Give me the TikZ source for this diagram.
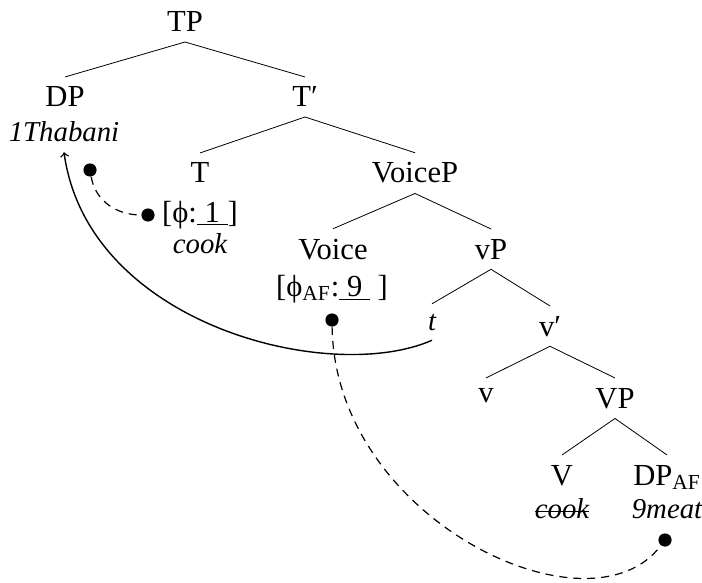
\documentclass[tikz,border=0pt]{standalone}
\usepackage{fontspec}
\setmainfont{Liberation Serif}
\begin{document}
\begin{tikzpicture}[x=0.5pt,y=-0.5pt,font=\fontsize{15.3pt}{18pt}\selectfont,
  cat/.style={anchor=base,inner sep=0pt,outer sep=5pt},
  word/.style={anchor=base,inner sep=0pt,outer sep=5pt,font=\fontsize{14.4pt}{17pt}\selectfont\itshape},
  feat/.style={anchor=base,inner sep=0pt,outer sep=0pt},
  dot/.style={circle,fill=black,inner sep=0pt,minimum size=6.6pt},
  link/.style={dash pattern=on 4pt off 3pt,line width=0.6pt}]
\useasboundingbox (0,0) rectangle (702,583);

\node[cat] (TP) at (185,32){TP};
\node[cat] (DP) at (65,107){DP};
\node[word] (Thabani) at (64,142){1Thabani};
\node[cat] (Tbar) at (305,107){T′};
\node[cat] (T) at (200,183){T};
\node[feat] (Tfeat) at (200,222){[ϕ:\underline{\ 1\ }]};
\node[word] (Tcook) at (200,253){cook};
\node[cat] (VoiceP) at (415,183){VoiceP};
\node[cat] (Voice) at (333,259){Voice};
\node[feat] (Vfeat) at (332,296){[ϕ\textsubscript{AF}:\underline{\ 9\ }\ ]};
\node[cat] (vP) at (491,259){vP};
\node[word] (t) at (432,330){t};
\node[cat] (vbar) at (550,336){v′};
\node[cat] (v) at (486,402){v};
\node[cat] (VP) at (615,408){VP};
\node[cat] (V) at (562,485){V};
\node[word,outer sep=0pt] (Vcook) at (562,518){cook};
\node[cat] (DPaf) at (667,485){DP\textsubscript{AF}};
\node[word] (meat) at (667,518){9meat};

\node[dot] (d1) at (90,170){};
\node[dot] (d2) at (148,215){};
\node[dot] (d3) at (332,320){};
\node[dot] (d4) at (665,540){};

%%%%%%%%
\path [-,thin] (TP.south) edge (DP.north);
\path [-,thin] (TP.south) edge (Tbar.north);
\path [-,thin] (Tbar.south) edge (T.north);
\path [-,thin] (Tbar.south) edge (VoiceP.north);
\path [-,thin] (VoiceP.south) edge (Voice.north);
\path [-,thin] (VoiceP.south) edge (vP.north);
\path [-,thin] (vP.south) edge (t.north);
\path [-,thin] (vP.south) edge (vbar.north);
\path [-,thin] (vbar.south) edge (v.north);
\path [-,thin] (vbar.south) edge (VP.north);
\path [-,thin] (VP.south) edge (V.north);
\path [-,thin] (VP.south) edge (DPaf.north);
%%%%%%%%%%%%
\draw[line width=0.6pt] ([yshift=3.2pt]Vcook.base west) -- ([yshift=3.2pt]Vcook.base east);
\draw[link] (d1) to[out=-80,in=180] (d2);
\draw[link] (d3) .. controls (335,520) and (590,640) .. (d4);
\draw[->,line width=0.7pt] (t.south) .. controls (330,385) and (88,325) .. (Thabani.south);

%%%%%%%%%%%%%%%%%%%%%%%%%%%%%%%%%%%
\end{tikzpicture}
\end{document}
